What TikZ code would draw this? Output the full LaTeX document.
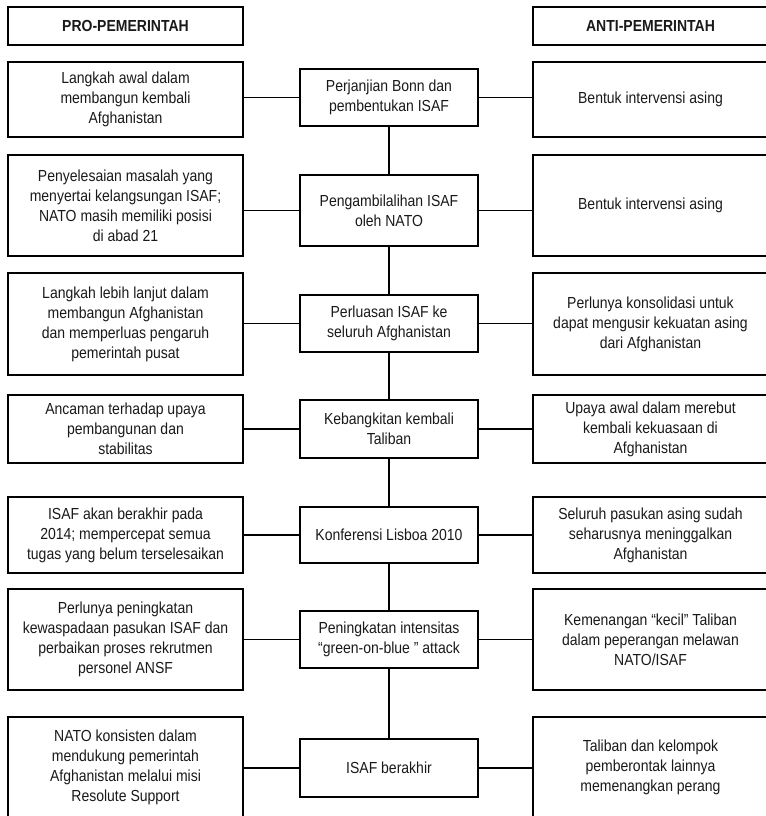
\documentclass[tikz,border=0pt]{standalone}
\usepackage{fontspec}
\setmainfont[FakeStretch=0.875]{Liberation Sans}
\begin{document}
\begin{tikzpicture}[x=0.75pt,y=-0.75pt,
  every node/.style={inner sep=0pt,align=center,font=\fontsize{12}{15}\selectfont,text=black!90},
  bx/.style n args={2}{draw,line width=1.2pt,minimum width={#1*0.75pt},minimum height={#2*0.75pt}},
  conn/.style={line width=1.2pt}]
\useasboundingbox (0,0) rectangle (766,816);
\clip (0,0) rectangle (766,816);
% headers
\node[bx={235}{38},font=\fontsize{12}{15}\selectfont\bfseries] (hl) at (125.5,26) {PRO-PEMERINTAH};
\node[bx={235}{38},font=\fontsize{12}{15}\selectfont\bfseries] (hr) at (650.5,26) {ANTI-PEMERINTAH};
% row 1
\node[bx={235}{75}] (l1) at (125.5,99.5) {Langkah awal dalam\\membangun kembali\\Afghanistan};
\node[bx={178}{57}] (c1) at (389,97.5) {Perjanjian Bonn dan\\pembentukan ISAF};
\node[bx={235}{75}] (r1) at (650.5,99.5) {Bentuk intervensi asing};
% row 2
\node[bx={235}{101}] (l2) at (125.5,205.5) {Penyelesaian masalah yang\\menyertai kelangsungan ISAF;\\NATO masih memiliki posisi\\di abad 21};
\node[bx={178}{71}] (c2) at (389,210.5) {Pengambilalihan ISAF\\oleh NATO};
\node[bx={235}{101}] (r2) at (650.5,205.5) {Bentuk intervensi asing};
% row 3
\node[bx={235}{102}] (l3) at (125.5,324) {Langkah lebih lanjut dalam\\membangun Afghanistan\\dan memperluas pengaruh\\pemerintah pusat};
\node[bx={178}{57}] (c3) at (389,323.5) {Perluasan ISAF ke\\seluruh Afghanistan};
\node[bx={235}{102}] (r3) at (650.5,324) {Perlunya konsolidasi untuk\\dapat mengusir kekuatan asing\\dari Afghanistan};
% row 4
\node[bx={235}{68}] (l4) at (125.5,429) {Ancaman terhadap upaya\\pembangunan dan\\stabilitas};
\node[bx={178}{58}] (c4) at (389,429) {Kebangkitan kembali\\Taliban};
\node[bx={235}{68}] (r4) at (650.5,429) {Upaya awal dalam merebut\\kembali kekuasaan di\\Afghanistan};
% row 5
\node[bx={235}{76}] (l5) at (125.5,535) {ISAF akan berakhir pada\\2014; mempercepat semua\\tugas yang belum terselesaikan};
\node[bx={178}{56}] (c5) at (389,535) {Konferensi Lisboa 2010};
\node[bx={235}{76}] (r5) at (650.5,535) {Seluruh pasukan asing sudah\\seharusnya meninggalkan\\Afghanistan};
% row 6
\node[bx={235}{101}] (l6) at (125.5,639.5) {Perlunya peningkatan\\kewaspadaan pasukan ISAF dan\\perbaikan proses rekrutmen\\personel ANSF};
\node[bx={178}{57}] (c6) at (389,639.5) {Peningkatan intensitas\\“green-on-blue ” attack};
\node[bx={235}{101}] (r6) at (650.5,639.5) {Kemenangan “kecil” Taliban\\dalam peperangan melawan\\NATO/ISAF};
% row 7
\node[bx={235}{101}] (l7) at (125.5,767.5) {NATO konsisten dalam\\mendukung pemerintah\\Afghanistan melalui misi\\Resolute Support};
\node[bx={178}{58}] (c7) at (389,768) {ISAF berakhir};
\node[bx={235}{101}] (r7) at (650.5,767.5) {Taliban dan kelompok\\pemberontak lainnya\\memenangkan perang};
% connectors
\foreach \i in {1,...,7}{
  \draw[conn] (c\i.west) -- (c\i.west -| l\i.east);
  \draw[conn] (c\i.east) -- (c\i.east -| r\i.west);
}
\foreach \i/\j in {1/2,2/3,3/4,4/5,5/6,6/7}{
  \draw[conn] (c\i.south) -- (c\j.north);
}
\end{tikzpicture}
\end{document}
